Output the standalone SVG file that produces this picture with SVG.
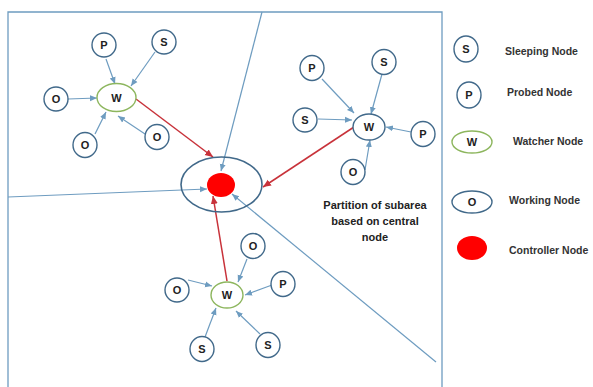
<svg xmlns="http://www.w3.org/2000/svg" width="593" height="387" viewBox="0 0 593 387">
<style>
.n{fill:#fff;stroke:#41698a;stroke-width:1.4}
.w{fill:#fff;stroke:#8db65e;stroke-width:1.4}
.t{font-family:"Liberation Sans",Arial,sans-serif;font-weight:bold;font-size:11px;fill:#222;text-anchor:middle;dominant-baseline:central}
.lg{font-family:"Liberation Sans",Arial,sans-serif;font-weight:bold;font-size:10.5px;fill:#333;dominant-baseline:central}
.b{stroke:#6e9cc0;stroke-width:1.2;fill:none;marker-end:url(#ab)}
.r{stroke:#c8323a;stroke-width:1.5;fill:none;marker-end:url(#ar)}
.f{stroke:#6e9cc0;stroke-width:1.3;fill:none}
</style>
<defs>
<marker id="ab" markerWidth="8" markerHeight="8" refX="7" refY="4" orient="auto" markerUnits="userSpaceOnUse"><path d="M0,1 L7,4 L0,7 Z" fill="#6e9cc0"/></marker>
<marker id="ar" markerWidth="9" markerHeight="9" refX="8" refY="4.5" orient="auto" markerUnits="userSpaceOnUse"><path d="M0,1 L8,4.5 L0,8 Z" fill="#c8323a"/></marker>
</defs>
<rect width="593" height="387" fill="#fff"/>
<g id="frame">
<path class="f" d="M8,387 V12 H442 V387"/>
</g>
<g id="connectors">
<line class="b" x1="262" y1="12" x2="221" y2="171"/>
<line class="b" x1="8" y1="197" x2="207" y2="189"/>
<line class="b" x1="436" y1="362" x2="232" y2="194"/>
<line class="b" x1="106" y1="59" x2="115" y2="84"/>
<line class="b" x1="155" y1="52" x2="131" y2="86"/>
<line class="b" x1="68" y1="99" x2="97" y2="98"/>
<line class="b" x1="95" y1="134" x2="106" y2="112"/>
<line class="b" x1="145" y1="134" x2="118" y2="116"/>
<line class="b" x1="322" y1="79" x2="354" y2="113"/>
<line class="b" x1="382" y1="74" x2="371" y2="114"/>
<line class="b" x1="318" y1="119" x2="352" y2="120"/>
<line class="b" x1="411" y1="132" x2="386" y2="127"/>
<line class="b" x1="365" y1="170" x2="370" y2="140"/>
<line class="b" x1="247" y1="259" x2="238" y2="282"/>
<line class="b" x1="188" y1="280" x2="212" y2="286"/>
<line class="b" x1="272" y1="285" x2="245" y2="295"/>
<line class="b" x1="205" y1="337" x2="216" y2="308"/>
<line class="b" x1="260" y1="334" x2="236" y2="311"/>
<line class="r" x1="136" y1="99" x2="213" y2="157"/>
<line class="r" x1="354" y1="127" x2="263" y2="187"/>
<line class="r" x1="227" y1="281" x2="213" y2="196"/>
</g>
<g id="center">
<ellipse cx="221.5" cy="184.5" rx="40.5" ry="27.5" fill="none" stroke="#41698a" stroke-width="1.6"/>
<ellipse cx="221" cy="185" rx="14" ry="12" fill="#f00"/>
</g>
<g id="tl-W"><ellipse class="w" cx="116.5" cy="97.5" rx="19.5" ry="14"/><text class="t" x="116.5" y="98">W</text></g>
<g id="tl-P"><ellipse class="n" cx="104" cy="45" rx="12" ry="12"/><text class="t" x="104" y="45">P</text></g>
<g id="tl-S"><ellipse class="n" cx="164" cy="42" rx="12" ry="12"/><text class="t" x="164" y="42">S</text></g>
<g id="tl-O1"><ellipse class="n" cx="56" cy="99" rx="12" ry="12"/><text class="t" x="56" y="99">O</text></g>
<g id="tl-O2"><ellipse class="n" cx="85" cy="145" rx="12" ry="12.5"/><text class="t" x="85" y="145">O</text></g>
<g id="tl-O3"><ellipse class="n" cx="157" cy="137" rx="12" ry="12.5"/><text class="t" x="157" y="137">O</text></g>
<g id="r-W"><ellipse class="n" cx="369" cy="127" rx="16" ry="13"/><text class="t" x="369" y="127">W</text></g>
<g id="r-P1"><ellipse class="n" cx="312" cy="68" rx="12" ry="12.5"/><text class="t" x="312" y="68">P</text></g>
<g id="r-S1"><ellipse class="n" cx="384" cy="62" rx="12" ry="12.5"/><text class="t" x="384" y="62">S</text></g>
<g id="r-S2"><ellipse class="n" cx="305" cy="120" rx="12" ry="12"/><text class="t" x="305" y="120">S</text></g>
<g id="r-P2"><ellipse class="n" cx="423" cy="134" rx="12" ry="12.5"/><text class="t" x="423" y="134">P</text></g>
<g id="r-O"><ellipse class="n" cx="353" cy="172" rx="12" ry="12.5"/><text class="t" x="353" y="172">O</text></g>
<g id="b-W"><ellipse class="w" cx="227" cy="295" rx="16" ry="13"/><text class="t" x="227" y="295">W</text></g>
<g id="b-O1"><ellipse class="n" cx="253" cy="246" rx="12" ry="12.5"/><text class="t" x="253" y="246">O</text></g>
<g id="b-O2"><ellipse class="n" cx="177" cy="290" rx="12" ry="12"/><text class="t" x="177" y="290">O</text></g>
<g id="b-P"><ellipse class="n" cx="283" cy="284" rx="12" ry="12.5"/><text class="t" x="283" y="284">P</text></g>
<g id="b-S1"><ellipse class="n" cx="202" cy="349" rx="12" ry="12.5"/><text class="t" x="202" y="349">S</text></g>
<g id="b-S2"><ellipse class="n" cx="268" cy="345" rx="12" ry="12.5"/><text class="t" x="268" y="345">S</text></g>
<g id="caption">
<text class="t" x="375" y="205" fill="#333">Partition of subarea</text>
<text class="t" x="375" y="221" fill="#333">based on central</text>
<text class="t" x="375" y="237" fill="#333">node</text>
</g>
<g id="legend">
<ellipse class="n" cx="466" cy="49" rx="12" ry="13"/><text class="t" x="466" y="49">S</text>
<text class="lg" x="505" y="51">Sleeping Node</text>
<ellipse class="n" cx="469" cy="95" rx="12" ry="13"/><text class="t" x="469" y="95">P</text>
<text class="lg" x="507" y="92">Probed Node</text>
<ellipse class="w" cx="472" cy="142" rx="20" ry="11"/><text class="t" x="472" y="142">W</text>
<text class="lg" x="513" y="141">Watcher Node</text>
<ellipse class="n" cx="472" cy="202" rx="20" ry="11"/><text class="t" x="472" y="202">O</text>
<text class="lg" x="509" y="200">Working Node</text>
<ellipse cx="472" cy="248" rx="15" ry="12" fill="#f00"/>
<text class="lg" x="509" y="250">Controller Node</text>
</g>
</svg>
